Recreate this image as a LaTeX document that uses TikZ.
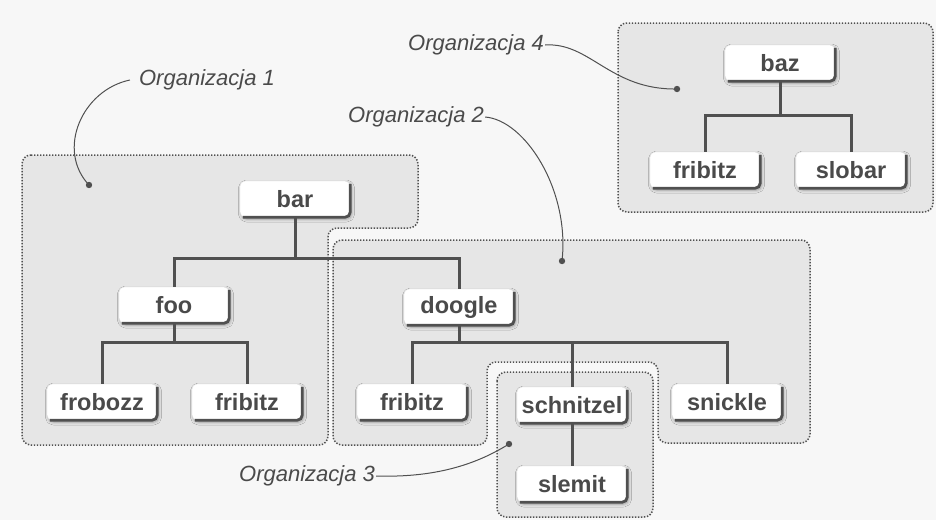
\documentclass[tikz,border=0pt]{standalone}
\usepackage{fontspec}
\setmainfont{Liberation Sans}
\usetikzlibrary{shadows.blur}
\definecolor{inkgray}{HTML}{4A4A4A}
\definecolor{linegray}{HTML}{505050}
\definecolor{orgfill}{HTML}{E6E6E6}
\definecolor{paper}{HTML}{F7F7F7}
\tikzstyle{dirbox}=[fill=white, draw=gray!25, rounded corners=5pt, minimum width=110pt, minimum height=36pt,
                    inner sep=0, text=inkgray, font=\bfseries\fontsize{23.5}{26}\selectfont,
                    blur shadow={shadow xshift=1.5pt, shadow yshift=-2pt, shadow opacity=35, shadow blur radius=3pt}]
\tikzstyle{boxedge}=[linegray, line width=2.8pt, rounded corners=5pt]
\tikzstyle{branch}=[linegray, line width=3pt]
\tikzstyle{orgzone}=[draw=linegray, fill=orgfill, line width=1.5pt, dash pattern=on 1.4pt off 1.6pt, rounded corners=9pt]
\tikzstyle{orglabel}=[text=inkgray, font=\itshape\fontsize{22}{26}\selectfont, inner sep=1pt]
\tikzstyle{pointer}=[linegray, line width=1pt]
\begin{document}
\begin{tikzpicture}[x=1pt, y=-1pt]
    \useasboundingbox[fill=paper] (0,0) rectangle (936,520);
    % Organisation zones.
    \draw[orgzone] (22,155) -- (418,155) -- (418,228) -- (328,228) -- (328,445) -- (22,445) -- cycle;
    \draw[orgzone] (333,240) -- (810,240) -- (810,443) -- (658,443) -- (658,362) -- (487,362) -- (487,445) -- (333,445) -- cycle;
    \draw[orgzone] (497,372) rectangle (653,517);
    \draw[orgzone] (618,23) rectangle (933,212);
    % Directory nodes.
    \node[dirbox] (bar) at (295,199) {bar};
    \node[dirbox] (foo) at (174,305) {foo};
    \node[dirbox] (doogle) at (459,307) {doogle};
    \node[dirbox] (frobozz) at (102,402) {frobozz};
    \node[dirbox] (fribitzA) at (247,402) {fribitz};
    \node[dirbox] (fribitzB) at (412,402) {fribitz};
    \node[dirbox] (schnitzel) at (572,405) {schnitzel};
    \node[dirbox] (snickle) at (727,402) {snickle};
    \node[dirbox] (slemit) at (572,484) {slemit};
    \node[dirbox] (baz) at (780,63) {baz};
    \node[dirbox] (fribitzD) at (705,170) {fribitz};
    \node[dirbox] (slobar) at (851,170) {slobar};
    \foreach \n in {bar,foo,doogle,frobozz,fribitzA,fribitzB,schnitzel,snickle,slemit,baz,fribitzD,slobar}
        \draw[boxedge] ([yshift=-3pt]\n.north east) |- ([xshift=3pt]\n.south west);
    % Tree branches.
    \foreach \kid in {foo,doogle}
        \draw[branch] (bar.south) -- ++(0,-41pt) -| (\kid.north);
    \foreach \kid in {frobozz,fribitzA}
        \draw[branch] (foo.south) -- ++(0,-19pt) -| (\kid.north);
    \foreach \kid in {fribitzB,schnitzel,snickle}
        \draw[branch] (doogle.south) -- ++(0,-17pt) -| (\kid.north);
    \draw[branch] (schnitzel.south) -- (slemit.north);
    \foreach \kid in {fribitzD,slobar}
        \draw[branch] (baz.south) -- ++(0,-34pt) -| (\kid.north);
    % Labels and pointers.
    \coordinate (dot1) at (89,185);
    \coordinate (dot2) at (562,261);
    \coordinate (dot3) at (509,444);
    \coordinate (dot4) at (677,89);
    \foreach \d in {dot1,dot2,dot3,dot4}
        \fill[linegray] (\d) circle (3.2pt);
    \node[orglabel] (org1) at (207,80) {Organizacja 1};
    \node[orglabel] (org2) at (416,117) {Organizacja 2};
    \node[orglabel] (org3) at (307,476) {Organizacja 3};
    \node[orglabel] (org4) at (476,45) {Organizacja 4};
    \draw[pointer] ([xshift=-8pt]org1.west) .. controls (82,90) and (56,150) .. (dot1);
    \draw[pointer] (org2.east) .. controls (525,120) and (570,190) .. (dot2);
    \draw[pointer] (org3.east) .. controls (440,478) and (480,462) .. (dot3);
    \draw[pointer] (org4.east) .. controls (590,42) and (610,90) .. (dot4);
\end{tikzpicture}
\end{document}
